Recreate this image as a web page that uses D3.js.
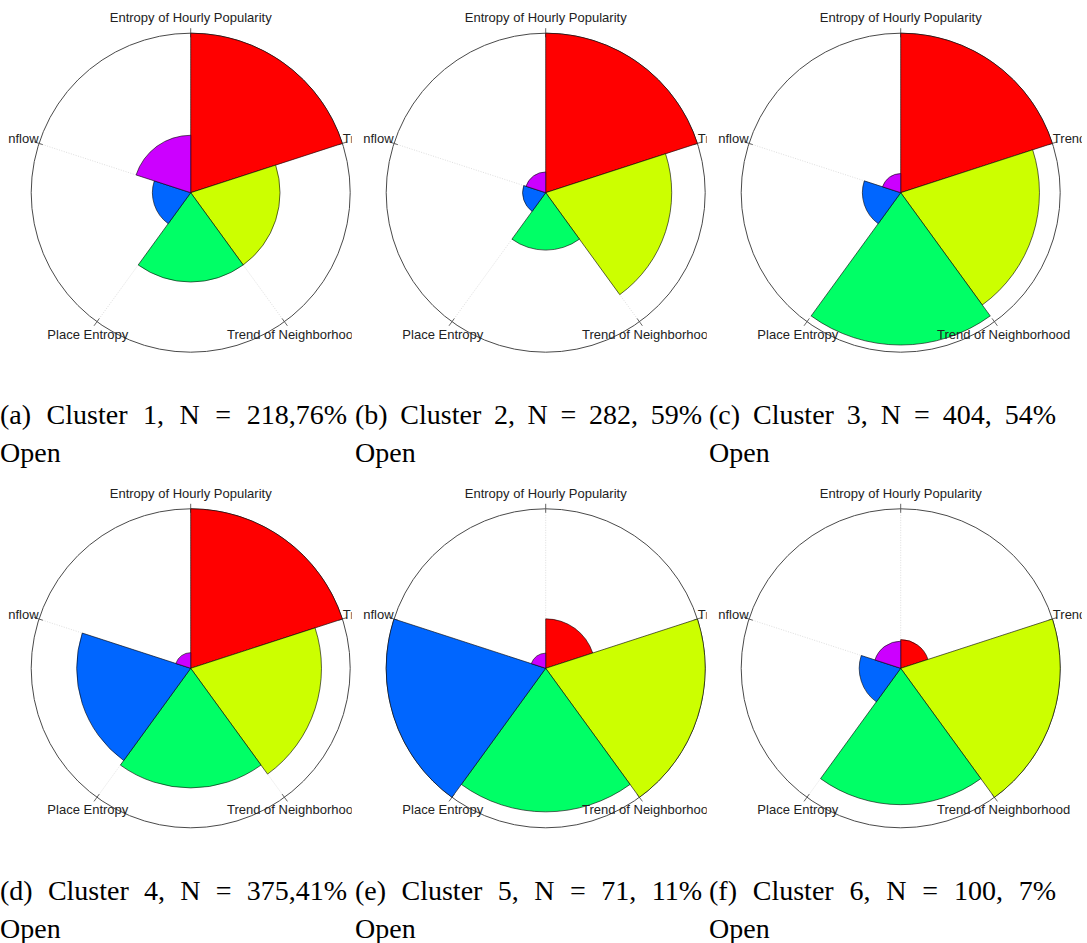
<!DOCTYPE html>
<html>
<head>
<meta charset="utf-8">
<script src="https://cdn.jsdelivr.net/npm/d3@7"></script>
<style>
  html, body { margin: 0; padding: 0; background: #ffffff; }
  svg { display: block; }
</style>
</head>
<body>
<svg id="chart" width="1087" height="943"></svg>
<script>
// ---------------- data ----------------
const categories = ["Entropy of Hourly Popularity", "Trend", "Trend of Neighborhood", "Place Entropy", "nflow"];
const shortRightLabel = "Tr";   // right-hand label as cut off by the neighbouring panel
const colors = ["#FF0000", "#CCFF00", "#00FF66", "#0066FF", "#CC00FF"];

const cluster1 = [1.00, 0.56, 0.56, 0.24, 0.36];
const cluster2 = [1.00, 0.79, 0.36, 0.145, 0.13];
const cluster3 = [1.00, 0.87, 0.955, 0.24, 0.12];
const cluster4 = [1.00, 0.82, 0.75, 0.715, 0.098];
const cluster5 = [0.31, 1.00, 0.90, 1.00, 0.095];
const cluster6 = [0.18, 1.00, 0.855, 0.26, 0.17];

const captionsLine1 = [
  "(a) Cluster 1, N = 218,76%",
  "(b) Cluster 2, N = 282, 59%",
  "(c) Cluster 3, N = 404, 54%",
  "(d) Cluster 4, N = 375,41%",
  "(e) Cluster 5, N = 71, 11%",
  "(f) Cluster 6, N = 100, 7%"
];
const captionsLine2 = ["Open", "Open", "Open", "Open", "Open", "Open"];

const clusters = [cluster1, cluster2, cluster3, cluster4, cluster5, cluster6];

// ---------------- layout ----------------
const svg = d3.select("#chart");
const colCx = [190.7, 545.7, 900.7];
const rowCy = [192.7, 668.3];
const capX = [0, 355, 709];
const capBase = [[424, 462], [900, 938]];
const capWidth = 347;
const capFont = 28;
const R = 159.5;

const rScale = d3.scaleLinear().domain([0, 1]).range([0, R]);
const angle = d3.scaleBand().domain(d3.range(categories.length)).range([0, 2 * Math.PI]);
const arc = d3.arc().innerRadius(0);

const defs = svg.append("defs");

clusters.forEach((vals, idx) => {
  const col = idx % 3, row = Math.floor(idx / 3);
  const cx = colCx[col], cy = rowCy[row];
  const clipRight = col === 2 ? cx + 181 : cx + 161;
  const clipLeft = cx - 184;
  const clipId = "clip" + idx;
  defs.append("clipPath").attr("id", clipId)
    .append("rect")
    .attr("x", clipLeft).attr("y", cy - 200)
    .attr("width", clipRight - clipLeft).attr("height", 380);

  const g = svg.append("g").attr("clip-path", `url(#${clipId})`)
    .append("g").attr("transform", `translate(${cx},${cy})`);

  // radial axis lines (faint dotted)
  categories.forEach((c, i) => {
    const a = angle(i);
    g.append("line")
      .attr("x1", 0).attr("y1", 0)
      .attr("x2", R * Math.sin(a)).attr("y2", -R * Math.cos(a))
      .attr("stroke", "#cfcfcf").attr("stroke-width", 0.7)
      .attr("stroke-dasharray", "1,1.5");
  });

  // outer circle
  g.append("circle").attr("r", R)
    .attr("fill", "none").attr("stroke", "#4a4a4a").attr("stroke-width", 1);

  // ticks crossing the circle
  categories.forEach((c, i) => {
    const a = angle(i);
    g.append("line")
      .attr("x1", (R - 4) * Math.sin(a)).attr("y1", -(R - 4) * Math.cos(a))
      .attr("x2", (R + 5) * Math.sin(a)).attr("y2", -(R + 5) * Math.cos(a))
      .attr("stroke", "#555").attr("stroke-width", 0.9);
  });

  // sectors
  g.selectAll("path.sector")
    .data(vals)
    .join("path")
    .attr("class", "sector")
    .attr("d", (v, i) => arc({
      outerRadius: rScale(v),
      startAngle: angle(i),
      endAngle: angle(i) + angle.bandwidth()
    }))
    .attr("fill", (v, i) => colors[i])
    .attr("stroke", "#000").attr("stroke-width", 0.6);

  // labels
  categories.forEach((c, i) => {
    const a = angle(i);
    const s = Math.sin(a), k = Math.cos(a);
    const label = (i === 1 && col !== 2) ? shortRightLabel : c;
    const t = g.append("text")
      .attr("font-family", "Liberation Sans, Arial, sans-serif")
      .attr("font-size", 13)
      .attr("fill", "#222")
      .attr("dy", "0.35em")
      .text(label);
    if (Math.abs(s) > 0.9) {
      t.attr("x", 160 * s).attr("y", -175 * k)
       .attr("text-anchor", s > 0 ? "start" : "end");
    } else {
      t.attr("x", 175 * s).attr("y", -175 * k).attr("text-anchor", "middle");
    }
  });

  // caption (justified first line)
  const x0 = capX[col];
  const words = captionsLine1[idx].split(" ");
  const wg = svg.append("g");
  const nodes = words.map(w => wg.append("text")
    .attr("font-family", "Liberation Serif, Times New Roman, serif")
    .attr("font-size", capFont)
    .attr("fill", "#000")
    .attr("y", capBase[row][0])
    .text(w));
  const widths = nodes.map(n => n.node().getComputedTextLength());
  const total = d3.sum(widths);
  const gap = (capWidth - total) / (words.length - 1);
  let xx = x0;
  nodes.forEach((n, i) => { n.attr("x", xx); xx += widths[i] + gap; });

  svg.append("text")
    .attr("font-family", "Liberation Serif, Times New Roman, serif")
    .attr("font-size", capFont)
    .attr("fill", "#000")
    .attr("x", x0).attr("y", capBase[row][1])
    .text(captionsLine2[idx]);
});
</script>
</body>
</html>
